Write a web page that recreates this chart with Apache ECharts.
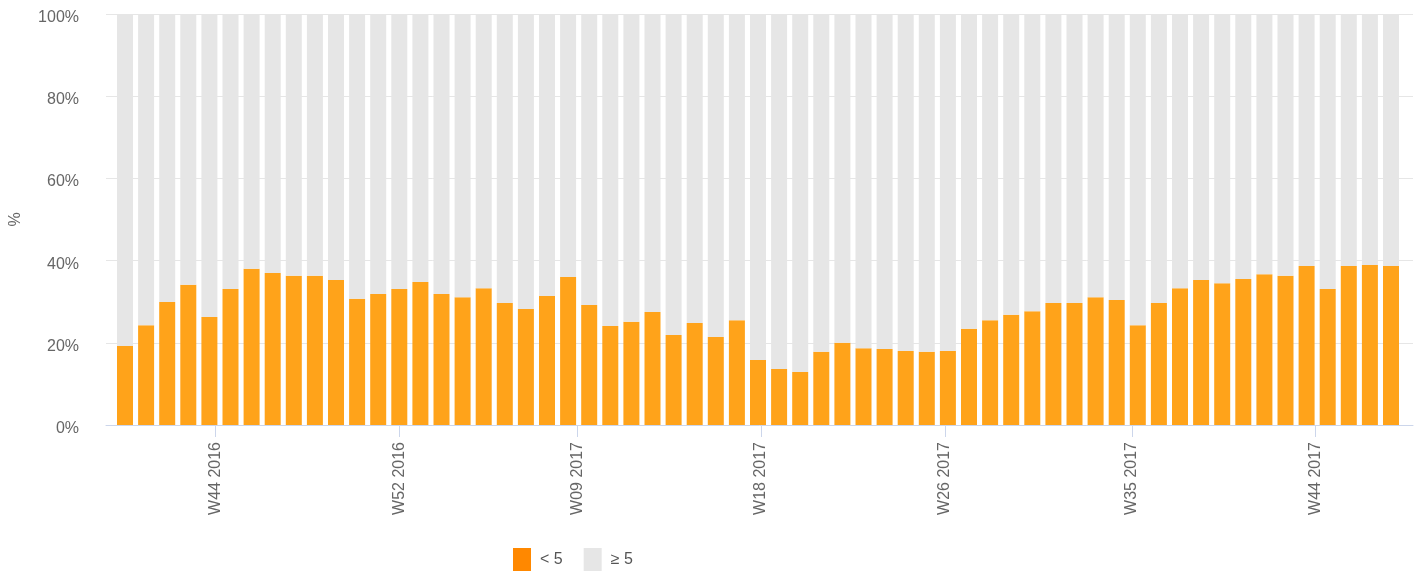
<!DOCTYPE html>
<html>
<head>
<meta charset="utf-8">
<script src="https://cdn.jsdelivr.net/npm/echarts@6/dist/echarts.min.js"></script>
<style>
html,body{margin:0;padding:0;background:#fff;}
#chart{width:1423px;height:577px;}
</style>
</head>
<body>
<div id="chart"></div>
<script>
var weeks = [
 'W40 2016','W41 2016','W42 2016','W43 2016','W44 2016','W45 2016','W46 2016','W47 2016','W48 2016','W49 2016',
 'W50 2016','W51 2016','W52 2016','W01 2017','W02 2017','W03 2017','W04 2017','W05 2017','W06 2017','W07 2017',
 'W08 2017','W09 2017','W10 2017','W11 2017','W12 2017','W13 2017','W14 2017','W15 2017','W16 2017','W17 2017',
 'W18 2017','W19 2017','W20 2017','W21 2017','W22 2017','W23 2017','W24 2017','W25 2017','W26 2017','W27 2017',
 'W28 2017','W29 2017','W30 2017','W31 2017','W32 2017','W33 2017','W34 2017','W35 2017','W36 2017','W37 2017',
 'W38 2017','W39 2017','W40 2017','W41 2017','W42 2017','W43 2017','W44 2017','W45 2017','W46 2017','W47 2017','W48 2017'
];
var lt5 = [
 19.2,24.3,29.9,34.1,26.3,33.1,38.0,37.0,36.3,36.3,
 35.3,30.7,31.9,33.1,34.8,31.9,31.1,33.3,29.7,28.2,
 31.4,36.0,29.2,24.1,25.1,27.5,21.9,24.8,21.4,25.5,
 15.8,13.6,12.9,17.8,20.0,18.7,18.5,18.0,17.8,18.0,
 23.4,25.5,26.8,27.7,29.7,29.7,31.1,30.4,24.3,29.7,
 33.3,35.3,34.5,35.5,36.7,36.3,38.7,33.1,38.7,38.9,38.7
];
var ge5 = [
 80.8,75.7,70.1,65.9,73.7,66.9,62.0,63.0,63.7,63.7,
 64.7,69.3,68.1,66.9,65.2,68.1,68.9,66.7,70.3,71.8,
 68.6,64.0,70.8,75.9,74.9,72.5,78.1,75.2,78.6,74.5,
 84.2,86.4,87.1,82.2,80.0,81.3,81.5,82.0,82.2,82.0,
 76.6,74.5,73.2,72.3,70.3,70.3,68.9,69.6,75.7,70.3,
 66.7,64.7,65.5,64.5,63.3,63.7,61.3,66.9,61.3,61.1,61.3
];
var tickDates = ['2016-11-01','2017-01-01','2017-03-01','2017-05-01','2017-07-01','2017-09-01','2017-11-01'];
var tickLabels = ['W44 2016','W52 2016','W09 2017','W18 2017','W26 2017','W35 2017','W44 2017'];
var seriesNames = ['< 5', '\u2265 5'];

// day scale spanning the weekly bars (each week = 7 days, bar centred on day 7i+3)
var axisStart = Date.UTC(2016, 8, 29);
var days = [];
for (var d = 0; d < weeks.length * 7; d++) {
  days.push(new Date(axisStart + d * 86400000).toISOString().slice(0, 10));
}
function isTick(idx, val) { return tickDates.indexOf(val) >= 0; }

var font = 'Liberation Sans, Arial, Helvetica, sans-serif';
var chart = echarts.init(document.getElementById('chart'), null, {renderer: 'canvas'});
chart.setOption({
  animation: false,
  grid: [
    {left: 103, right: 10, top: 14, bottom: 152},
    {left: 114.45, width: 1287.1, top: 14, bottom: 152}
  ],
  legend: {
    left: 508, top: 543,
    itemWidth: 18, itemHeight: 23, itemGap: 21,
    icon: 'rect',
    textStyle: {fontFamily: font, fontSize: 16, color: '#555', padding: [0, 0, 0, 4]},
    data: [
      {name: seriesNames[0], itemStyle: {color: '#ff8800'}},
      {name: seriesNames[1], itemStyle: {color: '#e6e6e6'}}
    ]
  },
  xAxis: [
    {gridIndex: 0, type: 'category', data: [''], position: 'bottom',
     axisLine: {show: true, lineStyle: {color: '#ccd6eb', width: 1}},
     axisTick: {show: false}, axisLabel: {show: false}, splitLine: {show: false}},
    {gridIndex: 1, type: 'category', data: weeks, position: 'bottom',
     axisLine: {show: false}, axisTick: {show: false}, axisLabel: {show: false}},
    {gridIndex: 1, type: 'category', data: days, position: 'bottom', boundaryGap: true,
     axisLine: {show: false},
     axisTick: {show: true, alignWithLabel: true, interval: isTick, length: 12,
                lineStyle: {color: '#ccd6eb', width: 1}},
     axisLabel: {show: true, interval: isTick, rotate: 90, margin: 17,
                 fontFamily: font, fontSize: 16, color: '#666',
                 formatter: function (v) { var k = tickDates.indexOf(v); return k >= 0 ? tickLabels[k] : ''; }}}
  ],
  yAxis: [
    {gridIndex: 0, type: 'value', min: 0, max: 100, interval: 20,
     name: '%', nameLocation: 'middle', nameRotate: 90, nameGap: 82,
     nameTextStyle: {fontFamily: font, fontSize: 16, color: '#666'},
     axisLine: {show: false}, axisTick: {show: false},
     axisLabel: {formatter: '{a|{value}%}', margin: 27,
                 rich: {a: {fontFamily: font, fontSize: 16, color: '#666', padding: [7, 0, 0, 0]}}},
     splitLine: {show: true, lineStyle: {color: '#e6e6e6', width: 1}}},
    {gridIndex: 1, type: 'value', min: 0, max: 100, show: false,
     splitLine: {show: false}}
  ],
  series: [
    {name: seriesNames[0], type: 'bar', stack: 'pct', xAxisIndex: 1, yAxisIndex: 1,
     barWidth: 16, data: lt5, itemStyle: {color: '#ffa31a'}},
    {name: seriesNames[1], type: 'bar', stack: 'pct', xAxisIndex: 1, yAxisIndex: 1,
     barWidth: 16, data: ge5, itemStyle: {color: '#e6e6e6'}}
  ]
});
</script>
</body>
</html>
